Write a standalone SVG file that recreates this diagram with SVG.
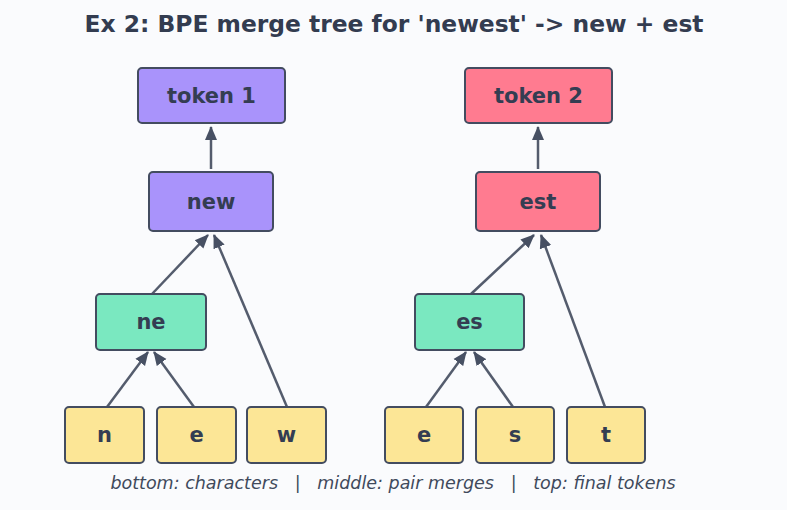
<svg xmlns="http://www.w3.org/2000/svg" width="787" height="510" viewBox="0 0 787 510">
<defs>
<marker id="ah" markerWidth="14" markerHeight="14" refX="13" refY="7" orient="auto" markerUnits="userSpaceOnUse" viewBox="0 0 14 14">
<path d="M0,1 L14,7 L0,13 z" fill="#475063"/>
</marker>
</defs>
<style>
.n rect{stroke:#434c60;stroke-width:2}
.n text{font-family:"DejaVu Sans",sans-serif;font-weight:bold;font-size:21px;fill:#343d52;text-anchor:middle;dominant-baseline:central}
.p{fill:#a993fb}.r{fill:#ff7b90}.g{fill:#7ae8c0}.y{fill:#fce696}
#edges line{stroke:#545c6d;stroke-width:2.5;marker-end:url(#ah)}
</style>
<rect width="787" height="510" fill="#fafbfd"/>
<text x="394" y="32" font-family="DejaVu Sans,sans-serif" font-weight="bold" font-size="23.4" fill="#333c50" text-anchor="middle">Ex 2: BPE merge tree for 'newest' -&gt; new + est</text>
<g id="edges">
<line x1="211" y1="169" x2="211" y2="127"/>
<line x1="152" y1="294" x2="208" y2="235"/>
<line x1="287" y1="407" x2="214" y2="235"/>
<line x1="107" y1="407" x2="148" y2="352"/>
<line x1="194" y1="407" x2="154" y2="352"/>
<line x1="538" y1="169" x2="538" y2="127"/>
<line x1="471" y1="294" x2="534" y2="235"/>
<line x1="605" y1="407" x2="541" y2="235"/>
<line x1="426" y1="407" x2="466" y2="352"/>
<line x1="513" y1="407" x2="474" y2="352"/>
</g>
<g id="token1" class="n"><rect class="p" x="138" y="68" width="147" height="55" rx="4"/><text x="211.5" y="95.5">token 1</text></g>
<g id="new" class="n"><rect class="p" x="149" y="172" width="124" height="59" rx="4"/><text x="211" y="201.5">new</text></g>
<g id="ne" class="n"><rect class="g" x="96" y="294" width="110" height="56" rx="4"/><text x="151" y="322">ne</text></g>
<g id="n" class="n"><rect class="y" x="65" y="407" width="79" height="56" rx="4"/><text x="104.5" y="435">n</text></g>
<g id="e1" class="n"><rect class="y" x="157" y="407" width="79" height="56" rx="4"/><text x="196.5" y="435">e</text></g>
<g id="w" class="n"><rect class="y" x="247" y="407" width="79" height="56" rx="4"/><text x="286.5" y="435">w</text></g>
<g id="token2" class="n"><rect class="r" x="465" y="68" width="147" height="55" rx="4"/><text x="538.5" y="95.5">token 2</text></g>
<g id="est" class="n"><rect class="r" x="476" y="172" width="124" height="59" rx="4"/><text x="538" y="201.5">est</text></g>
<g id="es" class="n"><rect class="g" x="415" y="294" width="109" height="56" rx="4"/><text x="469.5" y="322">es</text></g>
<g id="e2" class="n"><rect class="y" x="385" y="407" width="78" height="56" rx="4"/><text x="424" y="435">e</text></g>
<g id="s" class="n"><rect class="y" x="476" y="407" width="78" height="56" rx="4"/><text x="515" y="435">s</text></g>
<g id="t" class="n"><rect class="y" x="567" y="407" width="78" height="56" rx="4"/><text x="606" y="435">t</text></g>
<text x="393" y="489" font-family="DejaVu Sans,sans-serif" font-style="italic" font-size="17.5" fill="#3f4a5c" text-anchor="middle" xml:space="preserve">bottom: characters   |   middle: pair merges   |   top: final tokens</text>
</svg>
